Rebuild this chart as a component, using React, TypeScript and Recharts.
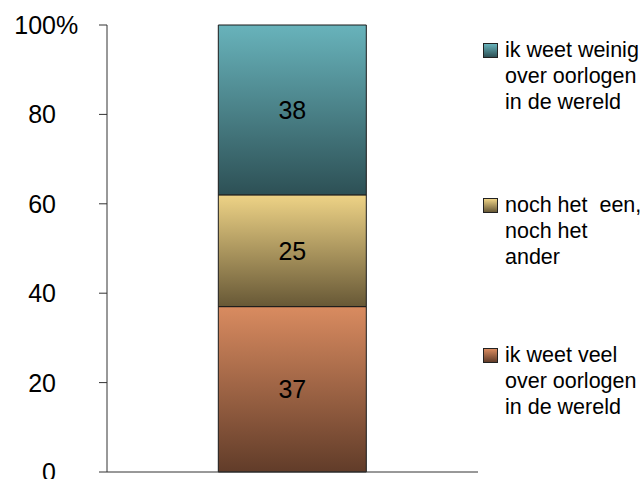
import { BarChart, Bar, XAxis, YAxis, Legend, LabelList } from "recharts"

// one stacked column, values in percent
const categories = [""]
const seriesKeys = ["veel", "neutraal", "weinig"]
const veelValues = [37]
const neutraalValues = [25]
const weinigValues = [38]
const yTicks = [0, 20, 40, 60, 80, 100]

const legendLabels: Record<string, string[]> = {
  weinig: ["ik weet weinig", "over oorlogen", "in de wereld"],
  neutraal: ["noch het  een,", "noch het", "ander"],
  veel: ["ik weet veel", "over oorlogen", "in de wereld"],
}

const gradients: Record<string, [string, string]> = {
  veel: ["#d98b60", "#613c29"],
  neutraal: ["#eed386", "#675836"],
  weinig: ["#68b3bb", "#2d5055"],
}

const data = categories.map((name, i) => ({
  name,
  veel: veelValues[i],
  neutraal: neutraalValues[i],
  weinig: weinigValues[i],
}))

const FONT = "'Liberation Sans', Arial, sans-serif"
const legendTops = [0, 155, 305]

function YTick(props: any) {
  const { x, y, payload } = props
  return (
    <g>
      <text x={x} y={y} dy="0.36em" textAnchor="end" fontSize={25} fill="#000" fontFamily={FONT}>
        {payload.value}
      </text>
      {payload.value === 100 && (
        <text x={x} y={y} dy="0.36em" textAnchor="start" fontSize={25} fill="#000" fontFamily={FONT}>
          %
        </text>
      )}
    </g>
  )
}

function LegendBox() {
  const order = [...seriesKeys].reverse()
  return (
    <div style={{ position: "relative", fontFamily: FONT, fontSize: 21.5, color: "#000" }}>
      {order.map((key, i) => (
        <div key={key} style={{ position: "absolute", left: 0, top: legendTops[i], lineHeight: "26px" }}>
          <div
            style={{
              position: "absolute",
              left: 0,
              top: 6,
              width: 13,
              height: 13,
              border: "1px solid #222",
              background: `linear-gradient(${gradients[key][0]}, ${gradients[key][1]})`,
            }}
          />
          <div style={{ marginLeft: 22, whiteSpace: "pre" }}>
            {legendLabels[key].map((line) => (
              <div key={line}>{line}</div>
            ))}
          </div>
        </div>
      ))}
    </div>
  )
}

export default function App() {
  return (
    <div style={{ position: "absolute", left: 0, top: 0, width: 642, height: 479, overflow: "hidden", background: "#fff" }}>
      <BarChart
        width={642}
        height={479}
        data={data}
        barCategoryGap="30%"
        margin={{ top: 25, right: 164, left: 0, bottom: 6 }}
      >
        <defs>
          {seriesKeys.map((key) => (
            <linearGradient key={key} id={`grad-${key}`} x1="0" y1="0" x2="0" y2="1">
              <stop offset="0%" stopColor={gradients[key][0]} />
              <stop offset="100%" stopColor={gradients[key][1]} />
            </linearGradient>
          ))}
        </defs>
        <XAxis
          dataKey="name"
          height={1}
          tick={false}
          tickLine={false}
          axisLine={{ stroke: "#333" }}
        />
        <YAxis
          width={107}
          domain={[0, 100]}
          ticks={yTicks}
          tickSize={8}
          tickMargin={43}
          tick={<YTick />}
          axisLine={{ stroke: "#333" }}
          tickLine={{ stroke: "#333" }}
          interval={0}
        />
        <Legend
          layout="vertical"
          align="center"
          verticalAlign="middle"
          wrapperStyle={{ left: 483, top: 37, width: 159, height: 420 }}
          content={<LegendBox />}
        />
        {seriesKeys.map((key) => (
          <Bar
            key={key}
            dataKey={key}
            stackId="a"
            fill={`url(#grad-${key})`}
            stroke="#1a1a1a"
            strokeWidth={1}
            isAnimationActive={false}
          >
            <LabelList dataKey={key} position="center" fontSize={25} fill="#000" fontFamily={FONT} />
          </Bar>
        ))}
      </BarChart>
    </div>
  )
}
